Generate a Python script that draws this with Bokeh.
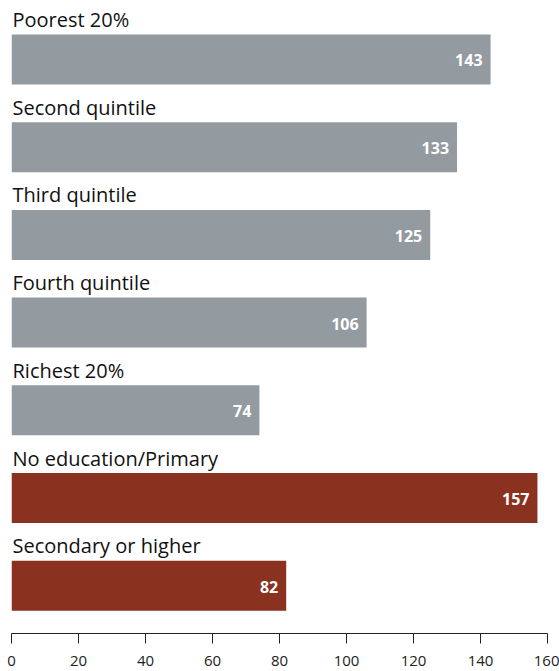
from bokeh.plotting import figure
from bokeh.models import ColumnDataSource, Range1d, FixedTicker
from bokeh.core.properties import value
from bokeh.embed import file_html
from bokeh.resources import INLINE

categories = ["Poorest 20%", "Second quintile", "Third quintile", "Fourth quintile",
              "Richest 20%", "No education/Primary", "Secondary or higher"]
values = [143, 133, 125, 106, 74, 157, 82]
groups = ["wealth", "wealth", "wealth", "wealth", "wealth", "education", "education"]
tick_values = [0, 20, 40, 60, 80, 100, 120, 140, 160]

color_map = {"wealth": "#939AA0", "education": "#8B3120"}
pos = list(range(len(categories)))
src = ColumnDataSource(dict(
    y=pos, v=values, cat=categories, lbl=[str(v) for v in values],
    color=[color_map[g] for g in groups],
))

p = figure(width=559, height=671, output_backend="svg", toolbar_location=None,
           x_range=Range1d(0, 160), y_range=Range1d(6.545, -0.5815),
           y_axis_location=None, min_border_left=11, min_border_right=12,
           min_border_top=8, min_border_bottom=38)
p.outline_line_color = None
p.xgrid.grid_line_color = None
p.ygrid.grid_line_color = None
p.background_fill_color = "white"

p.hbar(y="y", right="v", left=0, height=0.57, fill_color="color",
       line_color=None, source=src)

p.text(x=0, y="y", text="cat", source=src, x_offset=1, y_offset=-40,
       text_font=value("Open Sans"), text_font_size="20px",
       text_color="#111111", text_baseline="alphabetic", text_align="left")

p.text(x="v", y="y", text="lbl", source=src, x_offset=-8, y_offset=1,
       text_font=value("Open Sans"), text_font_size="16px", text_font_style="bold",
       text_color="white", text_baseline="middle", text_align="right")

ax = p.xaxis[0]
ax.ticker = FixedTicker(ticks=tick_values)
ax.minor_tick_line_color = None
ax.major_tick_in = 0
ax.major_tick_out = 10
ax.major_tick_line_color = "#222222"
ax.axis_line_color = "#222222"
ax.major_label_text_font = "Open Sans"
ax.major_label_text_font_size = "15px"
ax.major_label_text_color = "#222222"
ax.major_label_standoff = 12

open("out.html", "w").write(file_html(p, INLINE))
